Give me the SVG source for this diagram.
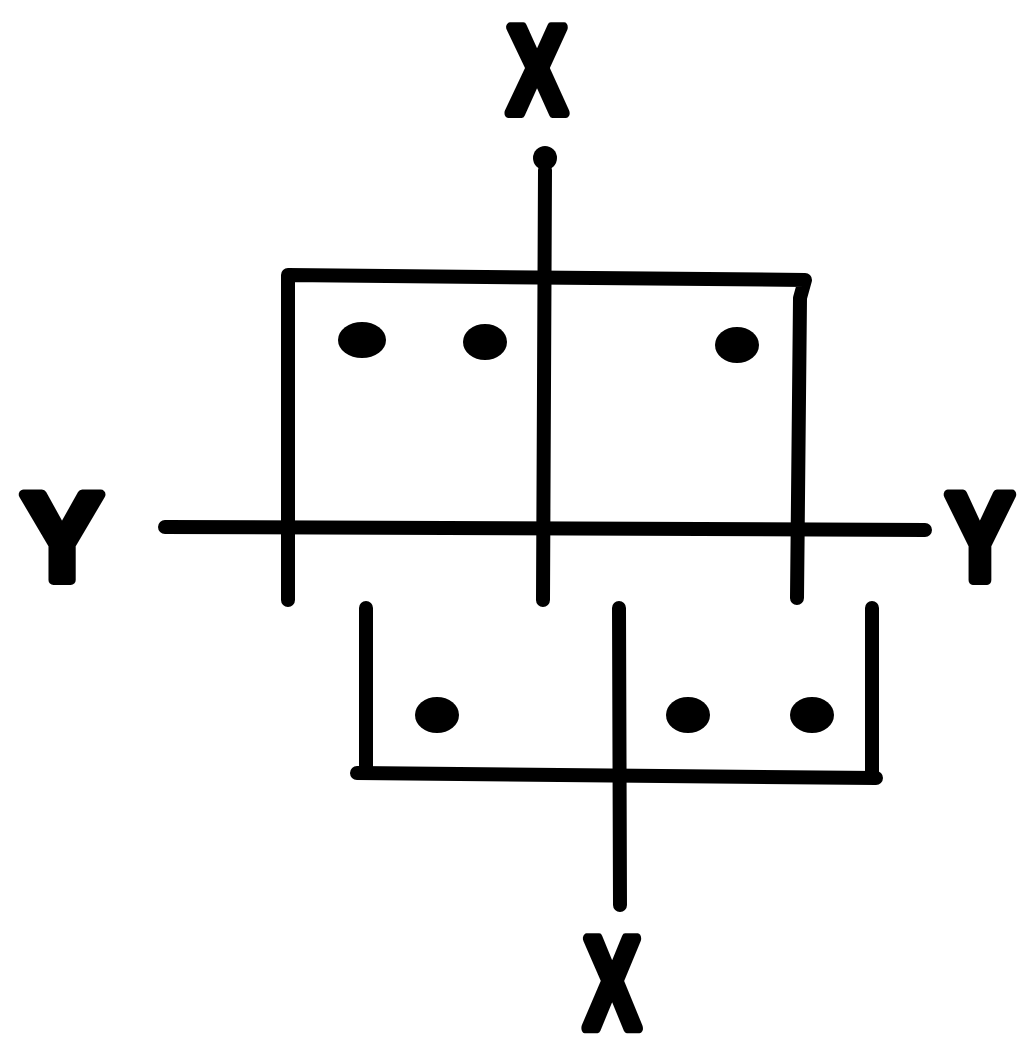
<svg xmlns="http://www.w3.org/2000/svg" width="1020" height="1056" viewBox="0 0 1020 1056">
<style>
.ln{stroke:#000;stroke-width:14;stroke-linecap:round;stroke-linejoin:round;fill:none}
.dot{fill:#000}
.lbl{font-family:"Liberation Sans",Arial,sans-serif;font-weight:bold;font-size:124px;fill:#000;stroke:#000;stroke-width:10;stroke-linejoin:round;text-anchor:middle}
</style>
<rect width="1020" height="1056" fill="#fff"/>
<g id="connectors">
<circle cx="545" cy="158" r="12" class="dot"/>
<path class="ln" d="M545 170 L543 600"/>
<path class="ln" d="M288 600 L288 275 L805 280 L800 298 L797 598"/>
<path class="ln" d="M165 527 L925 530"/>
<path class="ln" d="M366 608 L366 770 M357 773 L876 778 M872 608 L872 775"/>
<path class="ln" d="M619 608 L620 905"/>
</g>
<g id="upper-box">
<ellipse cx="362" cy="340" rx="24" ry="18" class="dot"/>
<ellipse cx="485" cy="342" rx="22" ry="18" class="dot"/>
<ellipse cx="737" cy="345" rx="22" ry="18" class="dot"/>
</g>
<g id="lower-box">
<ellipse cx="437" cy="715" rx="22" ry="18" class="dot"/>
<ellipse cx="688" cy="715" rx="22" ry="18" class="dot"/>
<ellipse cx="812" cy="715" rx="22" ry="18" class="dot"/>
</g>
<g id="label-x-top"><text class="lbl" transform="translate(537 113) scale(0.72 1)">X</text></g>
<g id="label-x-bottom"><text class="lbl" transform="translate(612 1028) scale(0.68 1.05)">X</text></g>
<g id="label-y-left"><text class="lbl" transform="translate(62 580) scale(0.98 1)">Y</text></g>
<g id="label-y-right"><text class="lbl" transform="translate(980 580) scale(0.82 1)">Y</text></g>
</svg>
